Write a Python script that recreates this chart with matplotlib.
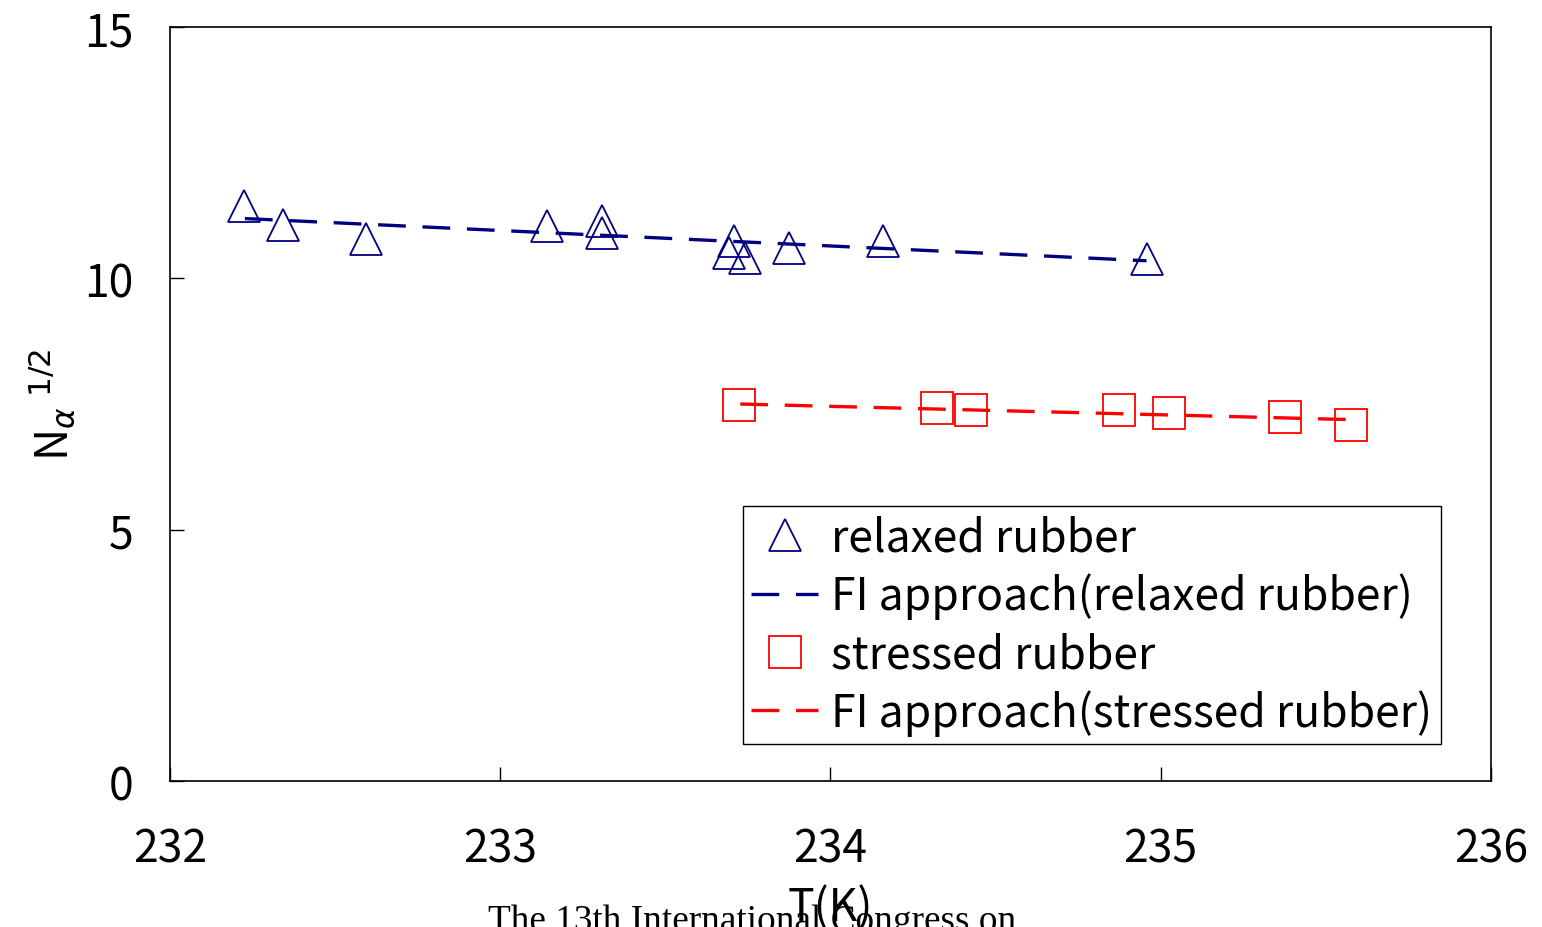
import matplotlib
matplotlib.use("Agg")
import matplotlib.pyplot as plt

plt.rcParams['font.family'] = ['Noto Sans CJK JP', 'DejaVu Sans']

# relaxed rubber (triangles)
t_relaxed = [232.224, 232.341, 232.593, 233.143, 233.309, 233.309,
             233.709, 233.694, 233.741, 233.875, 234.159, 234.959]
n_relaxed = [11.44, 11.07, 10.78, 11.05, 11.14, 10.91,
             10.75, 10.50, 10.41, 10.61, 10.74, 10.39]

# stressed rubber (squares)
t_stressed = [233.724, 234.324, 234.425, 234.875, 235.024, 235.375, 235.575]
n_stressed = [7.49, 7.42, 7.38, 7.39, 7.32, 7.24, 7.09]

# FI approach lines
t_fi_relaxed = [232.227, 234.957]
n_fi_relaxed = [11.19, 10.35]
t_fi_stressed = [233.727, 235.575]
n_fi_stressed = [7.50, 7.19]

x_ticks = [232, 233, 234, 235, 236]
y_ticks = [0, 5, 10, 15]

navy = '#000080'
red = '#ff0000'
fs = 32
lw = 2.4
dash = (20 / lw, 12 / lw)

fig = plt.figure(figsize=(15.42, 9.28), dpi=100)
ax = fig.add_axes([0.1102, 0.1573, 0.8567, 0.8125])

ax.plot(t_relaxed, n_relaxed, linestyle='none', marker='^', ms=23,
        mfc='none', mec=navy, mew=1.3, label='relaxed rubber')
ax.plot(t_fi_relaxed, n_fi_relaxed, color=navy, lw=lw, dashes=dash,
        label='FI approach(relaxed rubber)')
ax.plot(t_stressed, n_stressed, linestyle='none', marker='s', ms=22.5,
        mfc='none', mec=red, mew=1.3, label='stressed rubber')
ax.plot(t_fi_stressed, n_fi_stressed, color=red, lw=lw, dashes=dash,
        label='FI approach(stressed rubber)')

ax.set_xlim(232, 236)
ax.set_ylim(0, 15)
ax.set_xticks(x_ticks)
ax.set_yticks(y_ticks)
ax.tick_params(axis='both', direction='in', length=10, width=1, labelsize=fs)
ax.tick_params(axis='x', pad=32)
ax.tick_params(axis='y', pad=26)
for s in ax.spines.values():
    s.set_linewidth(1.2)

ax.set_xlabel('T(K)', fontsize=fs, labelpad=9)
ax.set_ylabel(r'N$_{\alpha}$$^{\ 1/2}$', fontsize=fs, labelpad=4)

leg = ax.legend(loc='lower right', bbox_to_anchor=(0.962, 0.0487),
                borderaxespad=0, fontsize=fs, fancybox=False, framealpha=1,
                edgecolor='black', handlelength=1.5, handletextpad=0.3,
                labelspacing=0.27, borderpad=0.19)
leg.get_frame().set_linewidth(1.0)

fig.text(0.488, -0.003, 'The 13th International Congress on',
         family='Liberation Serif', fontsize=26.8, ha='center', va='baseline')

fig.savefig('out.png', dpi=100)
